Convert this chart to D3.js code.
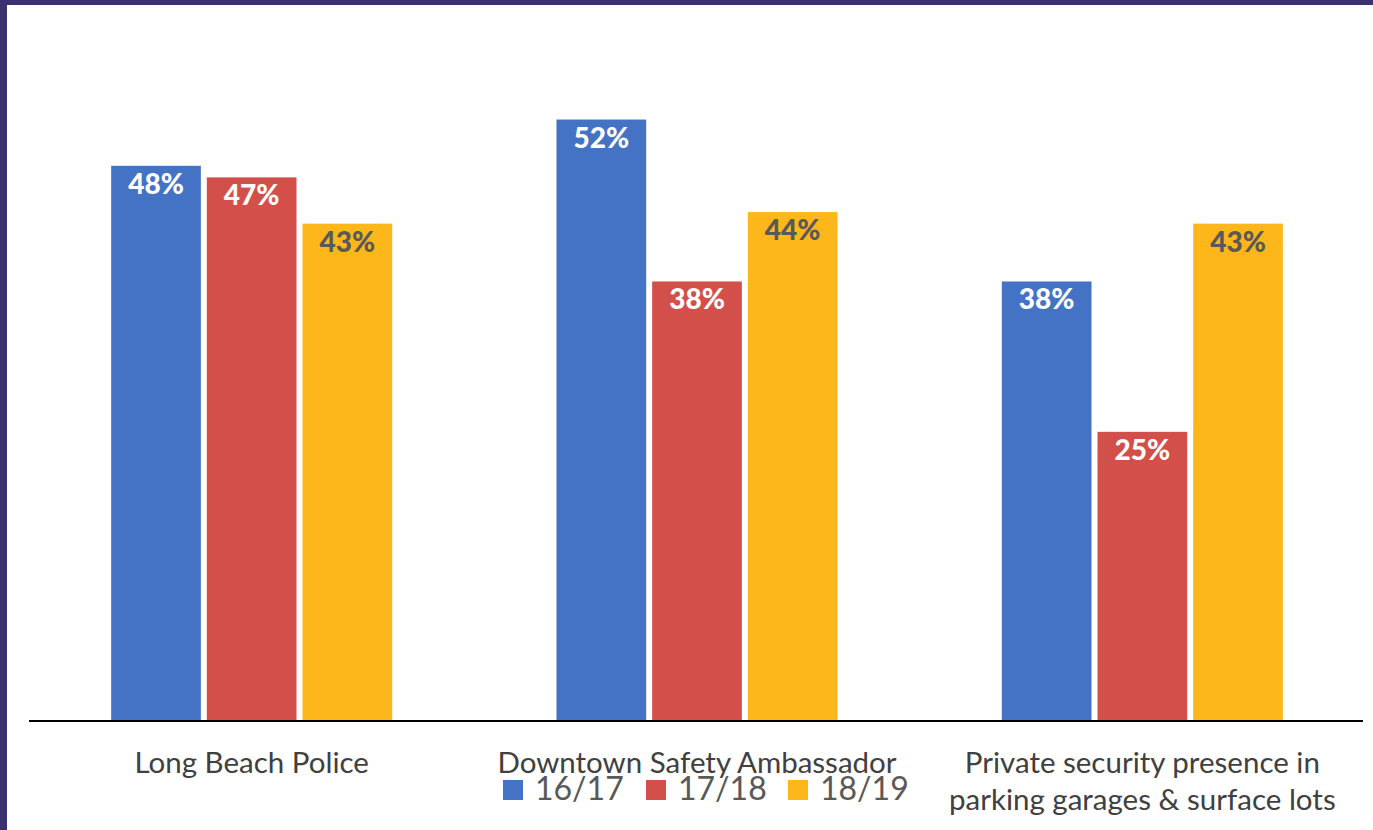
<!DOCTYPE html>
<html>
<head>
<meta charset="utf-8">
<script src="https://cdn.jsdelivr.net/npm/d3@7"></script>
<style>
  html, body { margin: 0; padding: 0; background: #fff; }
  svg { display: block; }
</style>
</head>
<body>
<svg id="chart" width="1373" height="830"></svg>
<script>
// Survey responses by year
const categories = [
  ["Long Beach Police"],
  ["Downtown Safety Ambassador"],
  ["Private security presence in", "parking garages & surface lots"]
];
const seriesNames = ["16/17", "17/18", "18/19"];
const values1617 = [0.48, 0.52, 0.38];
const values1718 = [0.47, 0.38, 0.25];
const values1819 = [0.43, 0.44, 0.43];
const seriesColors = ["#4472C4", "#D34F4A", "#FDB71A"];
const labelColors = ["#ffffff", "#ffffff", "#595959"];

const seriesValues = [values1617, values1718, values1819];

const svg = d3.select("#chart");
const W = 1373, H = 830;

// frame: dark band along top and left edges
svg.append("rect").attr("x", 0).attr("y", 0).attr("width", W).attr("height", 5).attr("fill", "#3B3170");
svg.append("rect").attr("x", 0).attr("y", 0).attr("width", 7).attr("height", H).attr("fill", "#3B3170");

const plotLeft = 29, plotRight = 1365, baseY = 721, topY = 27;

const x0 = d3.scaleBand()
  .domain(d3.range(categories.length))
  .range([plotLeft, plotRight])
  .paddingInner(0.369)
  .paddingOuter(0.1845);

const x1 = d3.scaleBand()
  .domain(d3.range(seriesNames.length))
  .range([0, x0.bandwidth()])
  .paddingInner(0.0625)
  .paddingOuter(0);

const y = d3.scaleLinear().domain([0, 0.6]).range([baseY, topY]);

const fmt = d3.format(".0%");
const labelFont = "Lato, 'Open Sans', sans-serif";

const groups = svg.selectAll("g.cat")
  .data(categories.map((c, i) => i))
  .join("g")
  .attr("class", "cat")
  .attr("transform", i => `translate(${x0(i)},0)`);

groups.selectAll("rect")
  .data(i => seriesValues.map((vals, s) => ({ s, v: vals[i] })))
  .join("rect")
  .attr("x", d => x1(d.s))
  .attr("y", d => y(d.v))
  .attr("width", x1.bandwidth())
  .attr("height", d => baseY - y(d.v))
  .attr("fill", d => seriesColors[d.s]);

groups.selectAll("text.val")
  .data(i => seriesValues.map((vals, s) => ({ s, v: vals[i] })))
  .join("text")
  .attr("class", "val")
  .attr("x", d => x1(d.s) + x1.bandwidth() / 2)
  .attr("y", d => y(d.v) + 28)
  .attr("text-anchor", "middle")
  .attr("font-family", labelFont)
  .attr("font-weight", 900)
  .attr("font-size", 28)
  .attr("fill", d => labelColors[d.s])
  .text(d => fmt(d.v));

// category axis
const xAxis = d3.axisBottom(x0).tickSize(0).tickFormat("");
const axisG = svg.append("g").attr("transform", `translate(0,${baseY})`).call(xAxis);
axisG.select(".domain").attr("stroke", "#000").attr("stroke-width", 2).attr("d", `M${plotLeft},0H${plotRight - 2}`);

categories.forEach((lines, i) => {
  const t = svg.append("text")
    .attr("x", x0(i) + x0.bandwidth() / 2)
    .attr("y", 773)
    .attr("text-anchor", "middle")
    .attr("font-family", labelFont)
    .attr("font-size", 29.5)
    .attr("fill", "#404040");
  lines.forEach((ln, k) => {
    t.append("tspan")
      .attr("x", x0(i) + x0.bandwidth() / 2)
      .attr("dy", k === 0 ? 0 : 37)
      .text(ln);
  });
});

// legend
const legendX = [503, 646, 788];
const legend = svg.append("g");
seriesNames.forEach((name, s) => {
  legend.append("rect")
    .attr("x", legendX[s]).attr("y", 780)
    .attr("width", 20).attr("height", 20)
    .attr("fill", seriesColors[s]);
  legend.append("text")
    .attr("x", legendX[s] + 32).attr("y", 800)
    .attr("font-family", labelFont)
    .attr("font-size", 32)
    .attr("fill", "#595959")
    .text(name);
});
</script>
</body>
</html>
